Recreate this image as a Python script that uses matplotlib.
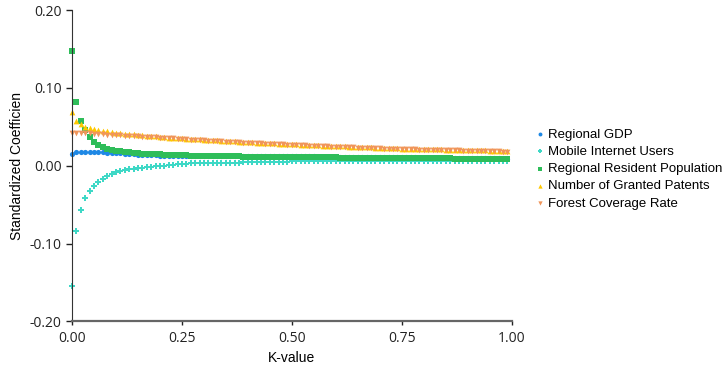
import numpy as np
import matplotlib
matplotlib.use('Agg')
import matplotlib.pyplot as plt

# K values 0.00 .. 0.99
k_values = np.round(np.arange(100) * 0.01, 2)

regional_gdp = [
    0.0155, 0.018, 0.0182, 0.0182, 0.018, 0.0178, 0.0175, 0.0172, 0.017, 0.0167,
    0.0164, 0.016, 0.0155, 0.015, 0.0146, 0.0142, 0.0139, 0.0136, 0.0134, 0.0132,
    0.0131, 0.013, 0.013, 0.013, 0.013, 0.0129, 0.0129, 0.0129, 0.0129, 0.0128,
    0.0128, 0.0128, 0.0128, 0.0128, 0.0127, 0.0127, 0.0127, 0.0126, 0.0126, 0.0126,
    0.0125, 0.0125, 0.0124, 0.0124, 0.0123, 0.0123, 0.0123, 0.0122, 0.0122, 0.0122,
    0.0121, 0.0121, 0.012, 0.012, 0.0119, 0.0119, 0.0118, 0.0118, 0.0117, 0.0117,
    0.0116, 0.0116, 0.0115, 0.0115, 0.0114, 0.0114, 0.0113, 0.0113, 0.0112, 0.0112,
    0.0111, 0.011, 0.011, 0.0109, 0.0108, 0.0108, 0.0107, 0.0106, 0.0106, 0.0105,
    0.0104, 0.0104, 0.0103, 0.0102, 0.0102, 0.0101, 0.01, 0.01, 0.0099, 0.0099,
    0.0098, 0.0097, 0.0097, 0.0096, 0.0096, 0.0095, 0.0094, 0.0094, 0.0093, 0.0093,
]

mobile_internet = [
    -0.155, -0.084, -0.057, -0.042, -0.0325, -0.026, -0.021, -0.0165, -0.013, -0.0105,
    -0.0085, -0.007, -0.0057, -0.0046, -0.0037, -0.003, -0.0023, -0.0017, -0.0012, -0.0007,
    -0.0003, 0.0003, 0.0008, 0.0013, 0.0018, 0.0022, 0.0026, 0.0029, 0.0032, 0.0034,
    0.0035, 0.0036, 0.0036, 0.0037, 0.0037, 0.0038, 0.0039, 0.004, 0.0041, 0.0042,
    0.0043, 0.0044, 0.0045, 0.0046, 0.0047, 0.0048, 0.005, 0.0051, 0.0053, 0.0054,
    0.0055, 0.0056, 0.0056, 0.0057, 0.0057, 0.0058, 0.0058, 0.0058, 0.0059, 0.0059,
    0.0059, 0.006, 0.006, 0.006, 0.006, 0.006, 0.006, 0.006, 0.006, 0.006,
    0.006, 0.0061, 0.0061, 0.0061, 0.0061, 0.0061, 0.0062, 0.0062, 0.0062, 0.0062,
    0.0062, 0.0062, 0.0062, 0.0062, 0.0062, 0.0062, 0.0063, 0.0063, 0.0063, 0.0063,
    0.0063, 0.0064, 0.0064, 0.0064, 0.0064, 0.0064, 0.0065, 0.0065, 0.0065, 0.0065,
]

resident_population = [
    0.148, 0.0825, 0.058, 0.046, 0.037, 0.031, 0.027, 0.024, 0.022, 0.0205,
    0.0195, 0.0185, 0.0178, 0.0172, 0.0166, 0.0161, 0.0157, 0.0153, 0.015, 0.0147,
    0.0145, 0.0143, 0.0141, 0.0139, 0.0137, 0.0135, 0.0133, 0.0131, 0.013, 0.0128,
    0.0127, 0.0126, 0.0125, 0.0124, 0.0123, 0.0122, 0.0121, 0.012, 0.0119, 0.0118,
    0.0117, 0.0116, 0.0116, 0.0115, 0.0115, 0.0114, 0.0113, 0.0113, 0.0112, 0.0111,
    0.0111, 0.011, 0.011, 0.0109, 0.0109, 0.0108, 0.0108, 0.0107, 0.0107, 0.0106,
    0.0106, 0.0105, 0.0105, 0.0104, 0.0104, 0.0103, 0.0103, 0.0102, 0.0102, 0.0101,
    0.0101, 0.01, 0.01, 0.0099, 0.0099, 0.0098, 0.0098, 0.0097, 0.0097, 0.0096,
    0.0096, 0.0095, 0.0095, 0.0095, 0.0094, 0.0094, 0.0094, 0.0093, 0.0093, 0.0092,
    0.0092, 0.0091, 0.0091, 0.0091, 0.009, 0.009, 0.009, 0.0089, 0.0089, 0.0089,
]

granted_patents = [
    0.0685, 0.058, 0.053, 0.05, 0.048, 0.0468, 0.0458, 0.0449, 0.0441, 0.0433,
    0.0426, 0.042, 0.0414, 0.0408, 0.0402, 0.0396, 0.0391, 0.0386, 0.0381, 0.0376,
    0.0371, 0.0366, 0.0362, 0.0358, 0.0355, 0.0351, 0.0348, 0.0345, 0.0341, 0.0338,
    0.0335, 0.0332, 0.0329, 0.0326, 0.0322, 0.0319, 0.0316, 0.0313, 0.0309, 0.0306,
    0.0303, 0.03, 0.0297, 0.0295, 0.0292, 0.0289, 0.0287, 0.0284, 0.0281, 0.0279,
    0.0276, 0.0274, 0.0271, 0.0269, 0.0267, 0.0264, 0.0262, 0.026, 0.0258, 0.0255,
    0.0253, 0.0251, 0.0249, 0.0246, 0.0244, 0.0242, 0.024, 0.0237, 0.0235, 0.0233,
    0.023, 0.0228, 0.0226, 0.0225, 0.0223, 0.0221, 0.022, 0.0218, 0.0217, 0.0215,
    0.0214, 0.0213, 0.0211, 0.021, 0.0209, 0.0208, 0.0207, 0.0205, 0.0204, 0.0203,
    0.0201, 0.02, 0.0199, 0.0198, 0.0197, 0.0195, 0.0194, 0.0192, 0.019, 0.0188,
]

forest_coverage = [
    0.0425, 0.0423, 0.0421, 0.0418, 0.0415, 0.0412, 0.0409, 0.0405, 0.0401, 0.0397,
    0.0393, 0.039, 0.0386, 0.0383, 0.038, 0.0376, 0.0373, 0.037, 0.0366, 0.0363,
    0.036, 0.0357, 0.0353, 0.035, 0.0347, 0.0343, 0.034, 0.0337, 0.0333, 0.033,
    0.0327, 0.0324, 0.0321, 0.0318, 0.0314, 0.0311, 0.0308, 0.0305, 0.0301, 0.0298,
    0.0295, 0.0292, 0.0289, 0.0287, 0.0284, 0.0281, 0.0279, 0.0276, 0.0273, 0.0271,
    0.0268, 0.0266, 0.0263, 0.0261, 0.0259, 0.0256, 0.0254, 0.0252, 0.025, 0.0247,
    0.0245, 0.0243, 0.0241, 0.0238, 0.0236, 0.0234, 0.0232, 0.0229, 0.0227, 0.0225,
    0.0222, 0.022, 0.0218, 0.0217, 0.0215, 0.0213, 0.0212, 0.021, 0.0209, 0.0207,
    0.0206, 0.0205, 0.0203, 0.0202, 0.0201, 0.02, 0.0199, 0.0197, 0.0196, 0.0195,
    0.0193, 0.0192, 0.0191, 0.019, 0.0189, 0.0187, 0.0186, 0.0184, 0.0182, 0.018,
]

series = [
    ('Regional GDP', regional_gdp, '#1E88E5', 'o', 14),
    ('Mobile Internet Users', mobile_internet, '#3ED8C6', 'P', 14),
    ('Regional Resident Population', resident_population, '#2EBD59', 's', 17),
    ('Number of Granted Patents', granted_patents, '#FFC800', '^', 17),
    ('Forest Coverage Rate', forest_coverage, '#F0955A', 'v', 17),
]

plt.rcParams['font.family'] = ['Open Sans', 'DejaVu Sans']

fig = plt.figure(figsize=(7.25, 3.68), dpi=100)
ax = fig.add_axes([0.0993, 0.1264, 0.6065, 0.8464])

for label, vals, color, marker, size in series:
    ax.scatter(k_values, vals, s=size, c=color, marker=marker,
               linewidths=0, label=label, clip_on=False)

ax.set_xlim(0, 1.0)
ax.set_ylim(-0.2, 0.2)
ax.set_xticks([0, 0.25, 0.5, 0.75, 1.0])
ax.set_xticklabels(['0.00', '0.25', '0.50', '0.75', '1.00'])
ax.set_yticks([-0.2, -0.1, 0, 0.1, 0.2])
ax.set_yticklabels(['-0.20', '-0.10', '0.00', '0.10', '0.20'])
ax.tick_params(axis='both', labelsize=10, colors='#222222', length=4, width=1)
ax.tick_params(axis='x', length=3)

for side in ('top', 'right'):
    ax.spines[side].set_visible(False)
ax.spines['left'].set_color('#333333')
ax.spines['bottom'].set_color('#666666')
ax.spines['bottom'].set_linewidth(1.6)

ax.set_xlabel('K-value', fontsize=10, family=['Liberation Sans'])
ax.set_ylabel('Standardized Coefficien', fontsize=10, family=['Liberation Sans'])

leg = ax.legend(loc='center left', bbox_to_anchor=(533 / 725, 1 - 169 / 368),
                bbox_transform=fig.transFigure, frameon=False,
                prop={'family': 'Liberation Sans', 'size': 9.5},
                handletextpad=0.15, labelspacing=0.38, markerscale=0.75,
                handlelength=1.0, borderpad=0, borderaxespad=0)

fig.savefig('out.png', dpi=100)
